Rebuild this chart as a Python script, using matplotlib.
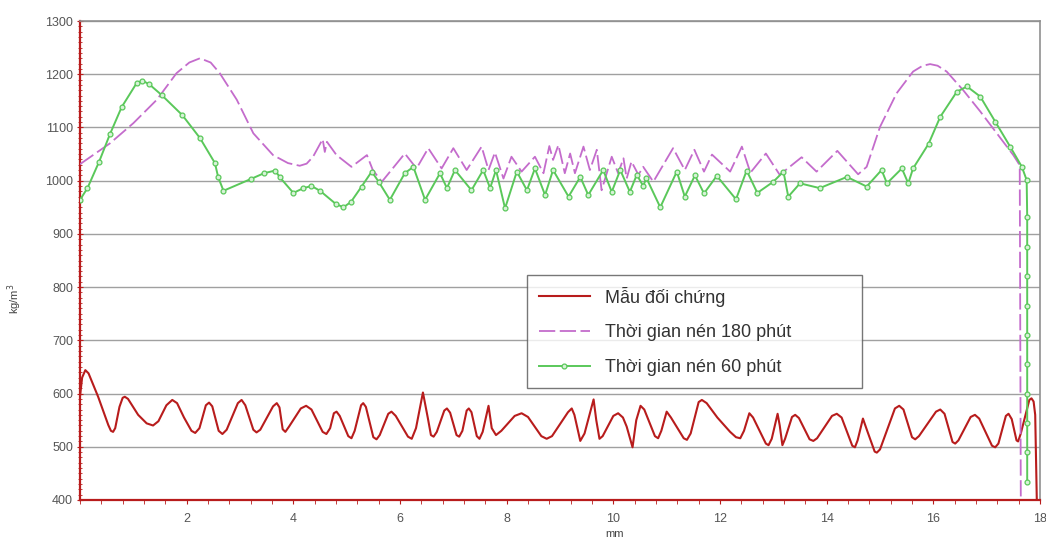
import matplotlib
matplotlib.use('Agg')
import matplotlib.pyplot as plt
from matplotlib.ticker import MultipleLocator

plt.rcParams['font.family'] = ['Liberation Sans', 'DejaVu Sans']

# (mm, kg/m3)
ctrl_x = [0.00, 0.04, 0.10, 0.16, 0.34, 0.53, 0.58, 0.62, 0.66, 0.74, 0.80, 0.84, 0.90, 1.09,
          1.25, 1.37, 1.47, 1.62, 1.73, 1.82, 1.95, 2.09, 2.16, 2.24, 2.36, 2.42, 2.48, 2.60,
          2.67, 2.75, 2.96, 3.03, 3.10, 3.25, 3.31, 3.38, 3.62, 3.69, 3.74, 3.80, 3.85, 3.92,
          4.14, 4.24, 4.34, 4.55, 4.62, 4.69, 4.76, 4.81, 4.87, 5.03, 5.09, 5.15, 5.27, 5.31,
          5.36, 5.50, 5.56, 5.62, 5.78, 5.84, 5.92, 6.15, 6.22, 6.30, 6.43, 6.52, 6.58, 6.63,
          6.69, 6.83, 6.88, 6.94, 7.06, 7.11, 7.17, 7.25, 7.29, 7.34, 7.44, 7.49, 7.55, 7.66,
          7.72, 7.80, 7.90, 8.15, 8.28, 8.40, 8.65, 8.75, 8.85, 9.15, 9.22, 9.27, 9.38, 9.46,
          9.63, 9.68, 9.74, 9.80, 10.00, 10.09, 10.18, 10.25, 10.36, 10.43, 10.51, 10.58, 10.78,
          10.84, 10.90, 11.00, 11.08, 11.32, 11.38, 11.45, 11.60, 11.66, 11.75, 11.95, 12.19,
          12.30, 12.38, 12.45, 12.55, 12.62, 12.86, 12.91, 12.97, 13.08, 13.12, 13.17, 13.22,
          13.35, 13.41, 13.48, 13.68, 13.75, 13.82, 14.10, 14.19, 14.28, 14.48, 14.53, 14.58,
          14.68, 14.76, 14.90, 14.94, 15.00, 15.28, 15.36, 15.44, 15.60, 15.66, 15.73, 16.05,
          16.13, 16.21, 16.36, 16.41, 16.47, 16.70, 16.78, 16.86, 17.10, 17.16, 17.22, 17.36,
          17.41, 17.47, 17.56, 17.59, 17.64, 17.80, 17.84, 17.88, 17.91, 17.94]
ctrl_y = [595, 630, 644, 638, 594, 541, 530, 528, 535, 575, 592, 594, 590, 560,
          544, 540, 548, 578, 588, 582, 555, 530, 526, 535, 578, 583, 576, 530,
          524, 532, 582, 588, 578, 532, 527, 532, 576, 582, 574, 533, 528, 538,
          572, 577, 570, 528, 524, 535, 563, 566, 558, 520, 516, 530, 578, 582,
          575, 518, 514, 522, 562, 566, 558, 519, 515, 535, 602, 555, 522, 519,
          528, 568, 572, 564, 522, 519, 530, 568, 572, 565, 520, 515, 528, 577,
          535, 522, 530, 558, 563, 556, 520, 515, 520, 565, 572, 560, 511, 525,
          589, 550, 515, 520, 558, 563, 555, 538, 499, 550, 577, 570, 520,
          516, 530, 566, 555, 516, 513, 525, 584, 588, 582, 555, 528,
          518, 516, 530, 563, 555, 506, 503, 515, 562, 540, 503, 515,
          556, 560, 554, 514, 511, 516, 558, 562, 555, 502, 499, 512,
          553, 530, 491, 489, 495, 572, 577, 570, 518, 514, 520, 566,
          570, 562, 509, 506, 512, 556, 560, 553, 502, 499, 506, 558,
          562, 552, 512, 510, 525, 588, 591, 585, 560, 400]

t180_x = [0.00, 0.56, 1.00, 1.44, 1.81, 2.05, 2.25, 2.45, 2.62, 2.94, 3.25, 3.62, 3.90, 4.12,
          4.25, 4.37, 4.55, 4.59, 4.63, 4.81, 5.09, 5.38, 5.49, 5.66, 6.09, 6.31, 6.53, 6.78,
          7.00, 7.25, 7.53, 7.66, 7.78, 7.94, 8.09, 8.28, 8.53, 8.69, 8.80, 8.87, 8.97, 9.09,
          9.19, 9.28, 9.44, 9.56, 9.69, 9.78, 9.97, 10.09, 10.19, 10.25, 10.34, 10.47, 10.56,
          10.75, 11.12, 11.34, 11.52, 11.70, 11.85, 12.19, 12.41, 12.57, 12.86, 13.12, 13.53,
          13.81, 14.20, 14.59, 14.75, 15.00, 15.31, 15.62, 15.80, 15.94, 16.08, 16.25, 16.56,
          16.88, 17.19, 17.50, 17.62, 17.64]
t180_y = [1031, 1070, 1108, 1152, 1202, 1222, 1230, 1222, 1202, 1152, 1089, 1048, 1033, 1028,
          1032, 1045, 1078, 1054, 1073, 1048, 1026, 1048, 1020, 998, 1051, 1023, 1061, 1023,
          1061, 1020, 1064, 1020, 1053, 1004, 1045, 1017, 1045, 1014, 1065, 1039, 1067, 1014,
          1051, 1014, 1064, 1020, 1058, 982, 1045, 1014, 1042, 1004, 1036, 1011, 1026,
          998, 1061, 1020, 1058, 1017, 1049, 1017, 1064, 1015, 1051, 1011, 1044,
          1017, 1056, 1012, 1026, 1101, 1164, 1205, 1216, 1219, 1216, 1205, 1170,
          1130, 1089, 1048, 1029, 400]

t60_x = [0.00, 0.14, 0.36, 0.56, 0.78, 1.06, 1.17, 1.30, 1.53, 1.92, 2.25, 2.53, 2.59, 2.69,
         3.20, 3.45, 3.66, 3.75, 4.00, 4.19, 4.34, 4.50, 4.80, 4.94, 5.08, 5.28, 5.47, 5.60,
         5.81, 6.09, 6.25, 6.47, 6.75, 6.88, 7.03, 7.34, 7.56, 7.69, 7.80, 7.97, 8.19, 8.38,
         8.53, 8.72, 8.87, 9.16, 9.38, 9.53, 9.81, 9.97, 10.13, 10.31, 10.44, 10.56, 10.62,
         10.88, 11.19, 11.34, 11.53, 11.70, 11.94, 12.30, 12.50, 12.70, 13.00, 13.19, 13.28,
         13.50, 13.87, 14.38, 14.75, 15.03, 15.13, 15.41, 15.53, 15.62, 15.91, 16.13, 16.44,
         16.63, 16.88, 17.16, 17.44, 17.66, 17.75, 17.76, 17.76, 17.76, 17.76, 17.76, 17.76,
         17.76, 17.76, 17.76, 17.76]
t60_y = [964, 986, 1036, 1087, 1138, 1183, 1188, 1181, 1161, 1123, 1080, 1033, 1007, 981,
         1003, 1014, 1019, 1006, 977, 986, 990, 981, 956, 950, 960, 989, 1017, 998,
         964, 1014, 1026, 964, 1014, 986, 1020, 982, 1020, 986, 1020, 948, 1017, 982,
         1023, 973, 1020, 970, 1007, 973, 1020, 979, 1020, 979, 1011, 990, 1005,
         950, 1017, 970, 1010, 976, 1009, 965, 1019, 977, 998, 1017, 970,
         995, 986, 1007, 989, 1020, 995, 1023, 995, 1023, 1069, 1120, 1167,
         1177, 1158, 1111, 1064, 1026, 1001, 932, 876, 820, 765, 710, 655,
         599, 544, 490, 433]

labels = ['Mẫu đối chứng', 'Thời gian nén 180 phút', 'Thời gian nén 60 phút']
x_ticks = [2, 4, 6, 8, 10, 12, 14, 16, 18]
y_ticks = [400, 500, 600, 700, 800, 900, 1000, 1100, 1200, 1300]


def main():
    red = '#b81c1c'
    fig = plt.figure(figsize=(10.46, 5.40), dpi=100)
    ax = fig.add_axes([80 / 1046, 40 / 540, 960 / 1046, 479 / 540])

    ax.plot(ctrl_x, ctrl_y, color=red, lw=1.5, label=labels[0], zorder=3)
    ax.plot(t180_x, t180_y, color='#c46ccc', lw=1.3, dashes=(9, 2.5), label=labels[1], zorder=3)
    ax.plot(t60_x, t60_y, color='#5ac85a', lw=1.4, marker='o', ms=3.5, mfc='#d8f2d8',
            mec='#5ac85a', mew=0.9, label=labels[2], zorder=4)

    ax.set_xlim(0, 18)
    ax.set_ylim(400, 1300)
    ax.set_xticks(x_ticks)
    ax.set_yticks(y_ticks)
    ax.xaxis.set_minor_locator(MultipleLocator(0.4))
    ax.yaxis.set_minor_locator(MultipleLocator(10))
    ax.tick_params(which='both', colors=red, labelcolor='#555555', labelsize=9)
    ax.tick_params(axis='x', which='both', length=3, direction='out', pad=6)
    ax.tick_params(axis='y', which='major', length=4, direction='inout', pad=3)
    ax.tick_params(axis='y', which='minor', length=2.5, direction='inout')

    ax.grid(axis='y', color='#a0a0a0', lw=1.0, zorder=0)
    for s in ['left', 'bottom']:
        ax.spines[s].set_color(red)
        ax.spines[s].set_linewidth(1.6)
    for s in ['top', 'right']:
        ax.spines[s].set_color('#909090')
        ax.spines[s].set_linewidth(1.2)

    ax.set_xlabel('mm', fontsize=8, color='#444444')
    ax.xaxis.set_label_coords(0.557, -0.06)
    ax.set_ylabel('kg/m$^3$', fontsize=8, color='#444444')
    ax.yaxis.set_label_coords(-0.058, 0.42)

    leg = ax.legend(loc='upper left', bbox_to_anchor=(0.466, 0.234, 0.349, 0.236), mode='expand',
                    fontsize=13, frameon=True, fancybox=False, handlelength=2.8,
                    handletextpad=0.85, labelspacing=0.98, borderpad=0.65, borderaxespad=0)
    leg.get_frame().set_edgecolor('#555555')
    leg.get_frame().set_linewidth(1.0)
    for t in leg.get_texts():
        t.set_color('#333333')

    fig.savefig('out.png', dpi=100)


if __name__ == "__main__":
    main()
